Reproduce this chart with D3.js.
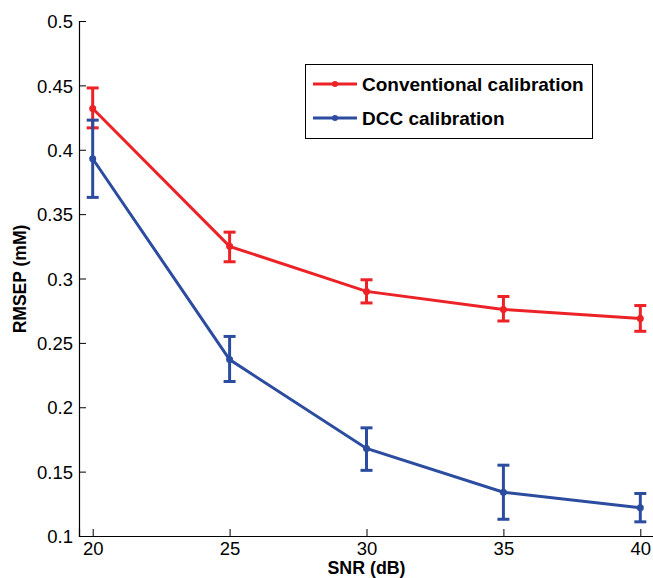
<!DOCTYPE html>
<html>
<head>
<meta charset="utf-8">
<script src="https://cdn.jsdelivr.net/npm/d3@7"></script>
<style>
  body { margin: 0; background: #fff; }
  text { font-family: "Liberation Sans", Arial, sans-serif; fill: #000; }
</style>
</head>
<body>
<div id="chart"></div>
<script>
// --- données ---
const snr = [20, 25, 30, 35, 40];
const convMoy = [0.432, 0.325, 0.290, 0.276, 0.269];
const convBas = [0.417, 0.313, 0.281, 0.267, 0.259];
const convHaut = [0.448, 0.336, 0.299, 0.286, 0.279];
const dccMoy = [0.393, 0.237, 0.168, 0.134, 0.122];
const dccBas = [0.363, 0.220, 0.151, 0.113, 0.111];
const dccHaut = [0.423, 0.255, 0.184, 0.155, 0.133];
const yTicks = [0.1, 0.15, 0.2, 0.25, 0.3, 0.35, 0.4, 0.45, 0.5];
const series = [
  { nom: "Conventional calibration", moy: convMoy, bas: convBas, haut: convHaut, couleur: "#ec2227" },
  { nom: "DCC calibration", moy: dccMoy, bas: dccBas, haut: dccHaut, couleur: "#2b4c9f" }
];

const largeur = 653, hauteur = 578;
const svg = d3.select("#chart").append("svg")
  .attr("width", largeur).attr("height", hauteur);

// zone du tracé
const x = d3.scaleLinear().domain([19.5, 40.5]).range([79, 654]);
const y = d3.scaleLinear().domain([0.1, 0.5]).range([536, 21]);

// axes
const axeX = svg.append("g").attr("transform", `translate(0,${y(0.1)})`)
  .call(d3.axisBottom(x).tickValues(snr).tickSize(-7).tickPadding(6).tickFormat(d3.format("d")));
const axeY = svg.append("g").attr("transform", `translate(${x(19.5)},0)`)
  .call(d3.axisLeft(y).tickValues(yTicks).tickSize(-7).tickPadding(6).tickFormat(d => String(+d.toFixed(2))));
[axeX, axeY].forEach(a => {
  a.select(".domain").attr("stroke", "#000").attr("stroke-width", 1.2);
  a.selectAll(".tick line").attr("stroke", "#000");
  a.selectAll("text").style("font-size", "18.5px").attr("fill", "#000");
});
axeY.selectAll("text").attr("dy", "0.36em");

// titres des axes
svg.append("text").attr("x", x(30)).attr("y", 574)
  .attr("text-anchor", "middle").style("font-size", "17.8px").style("font-weight", "bold")
  .text("SNR (dB)");
svg.append("text").attr("transform", "translate(26,279) rotate(-90)")
  .attr("text-anchor", "middle").style("font-size", "17.5px").style("font-weight", "bold")
  .text("RMSEP (mM)");

// courbes, barres d'erreur, points
const ligne = d3.line().x(d => x(d[0])).y(d => y(d[1]));
series.forEach(s => {
  const g = svg.append("g");
  const pts = snr.map((v, i) => [v, s.moy[i]]);
  g.append("path").datum(pts).attr("d", ligne)
    .attr("fill", "none").attr("stroke", s.couleur).attr("stroke-width", 3);
  snr.forEach((v, i) => {
    g.append("line").attr("x1", x(v)).attr("x2", x(v))
      .attr("y1", y(s.bas[i])).attr("y2", y(s.haut[i]))
      .attr("stroke", s.couleur).attr("stroke-width", 3);
    [s.bas[i], s.haut[i]].forEach(b => {
      g.append("line").attr("x1", x(v) - 6).attr("x2", x(v) + 6)
        .attr("y1", y(b)).attr("y2", y(b))
        .attr("stroke", s.couleur).attr("stroke-width", 3);
    });
  });
  g.selectAll("circle").data(pts).join("circle")
    .attr("cx", d => x(d[0])).attr("cy", d => y(d[1])).attr("r", 3.5)
    .attr("fill", s.couleur);
});

// légende
const leg = svg.append("g");
leg.append("rect").attr("x", 305.5).attr("y", 64.5).attr("width", 287).attr("height", 74)
  .attr("fill", "#fff").attr("stroke", "#000").attr("stroke-width", 1);
series.forEach((s, i) => {
  const yy = 84 + i * 34;
  leg.append("line").attr("x1", 313).attr("x2", 357).attr("y1", yy).attr("y2", yy)
    .attr("stroke", s.couleur).attr("stroke-width", 3);
  leg.append("circle").attr("cx", 335).attr("cy", yy).attr("r", 3).attr("fill", s.couleur);
  leg.append("text").attr("x", 362).attr("y", yy).attr("dy", "0.36em")
    .style("font-size", "19px").style("font-weight", "bold").text(s.nom);
});
</script>
</body>
</html>
